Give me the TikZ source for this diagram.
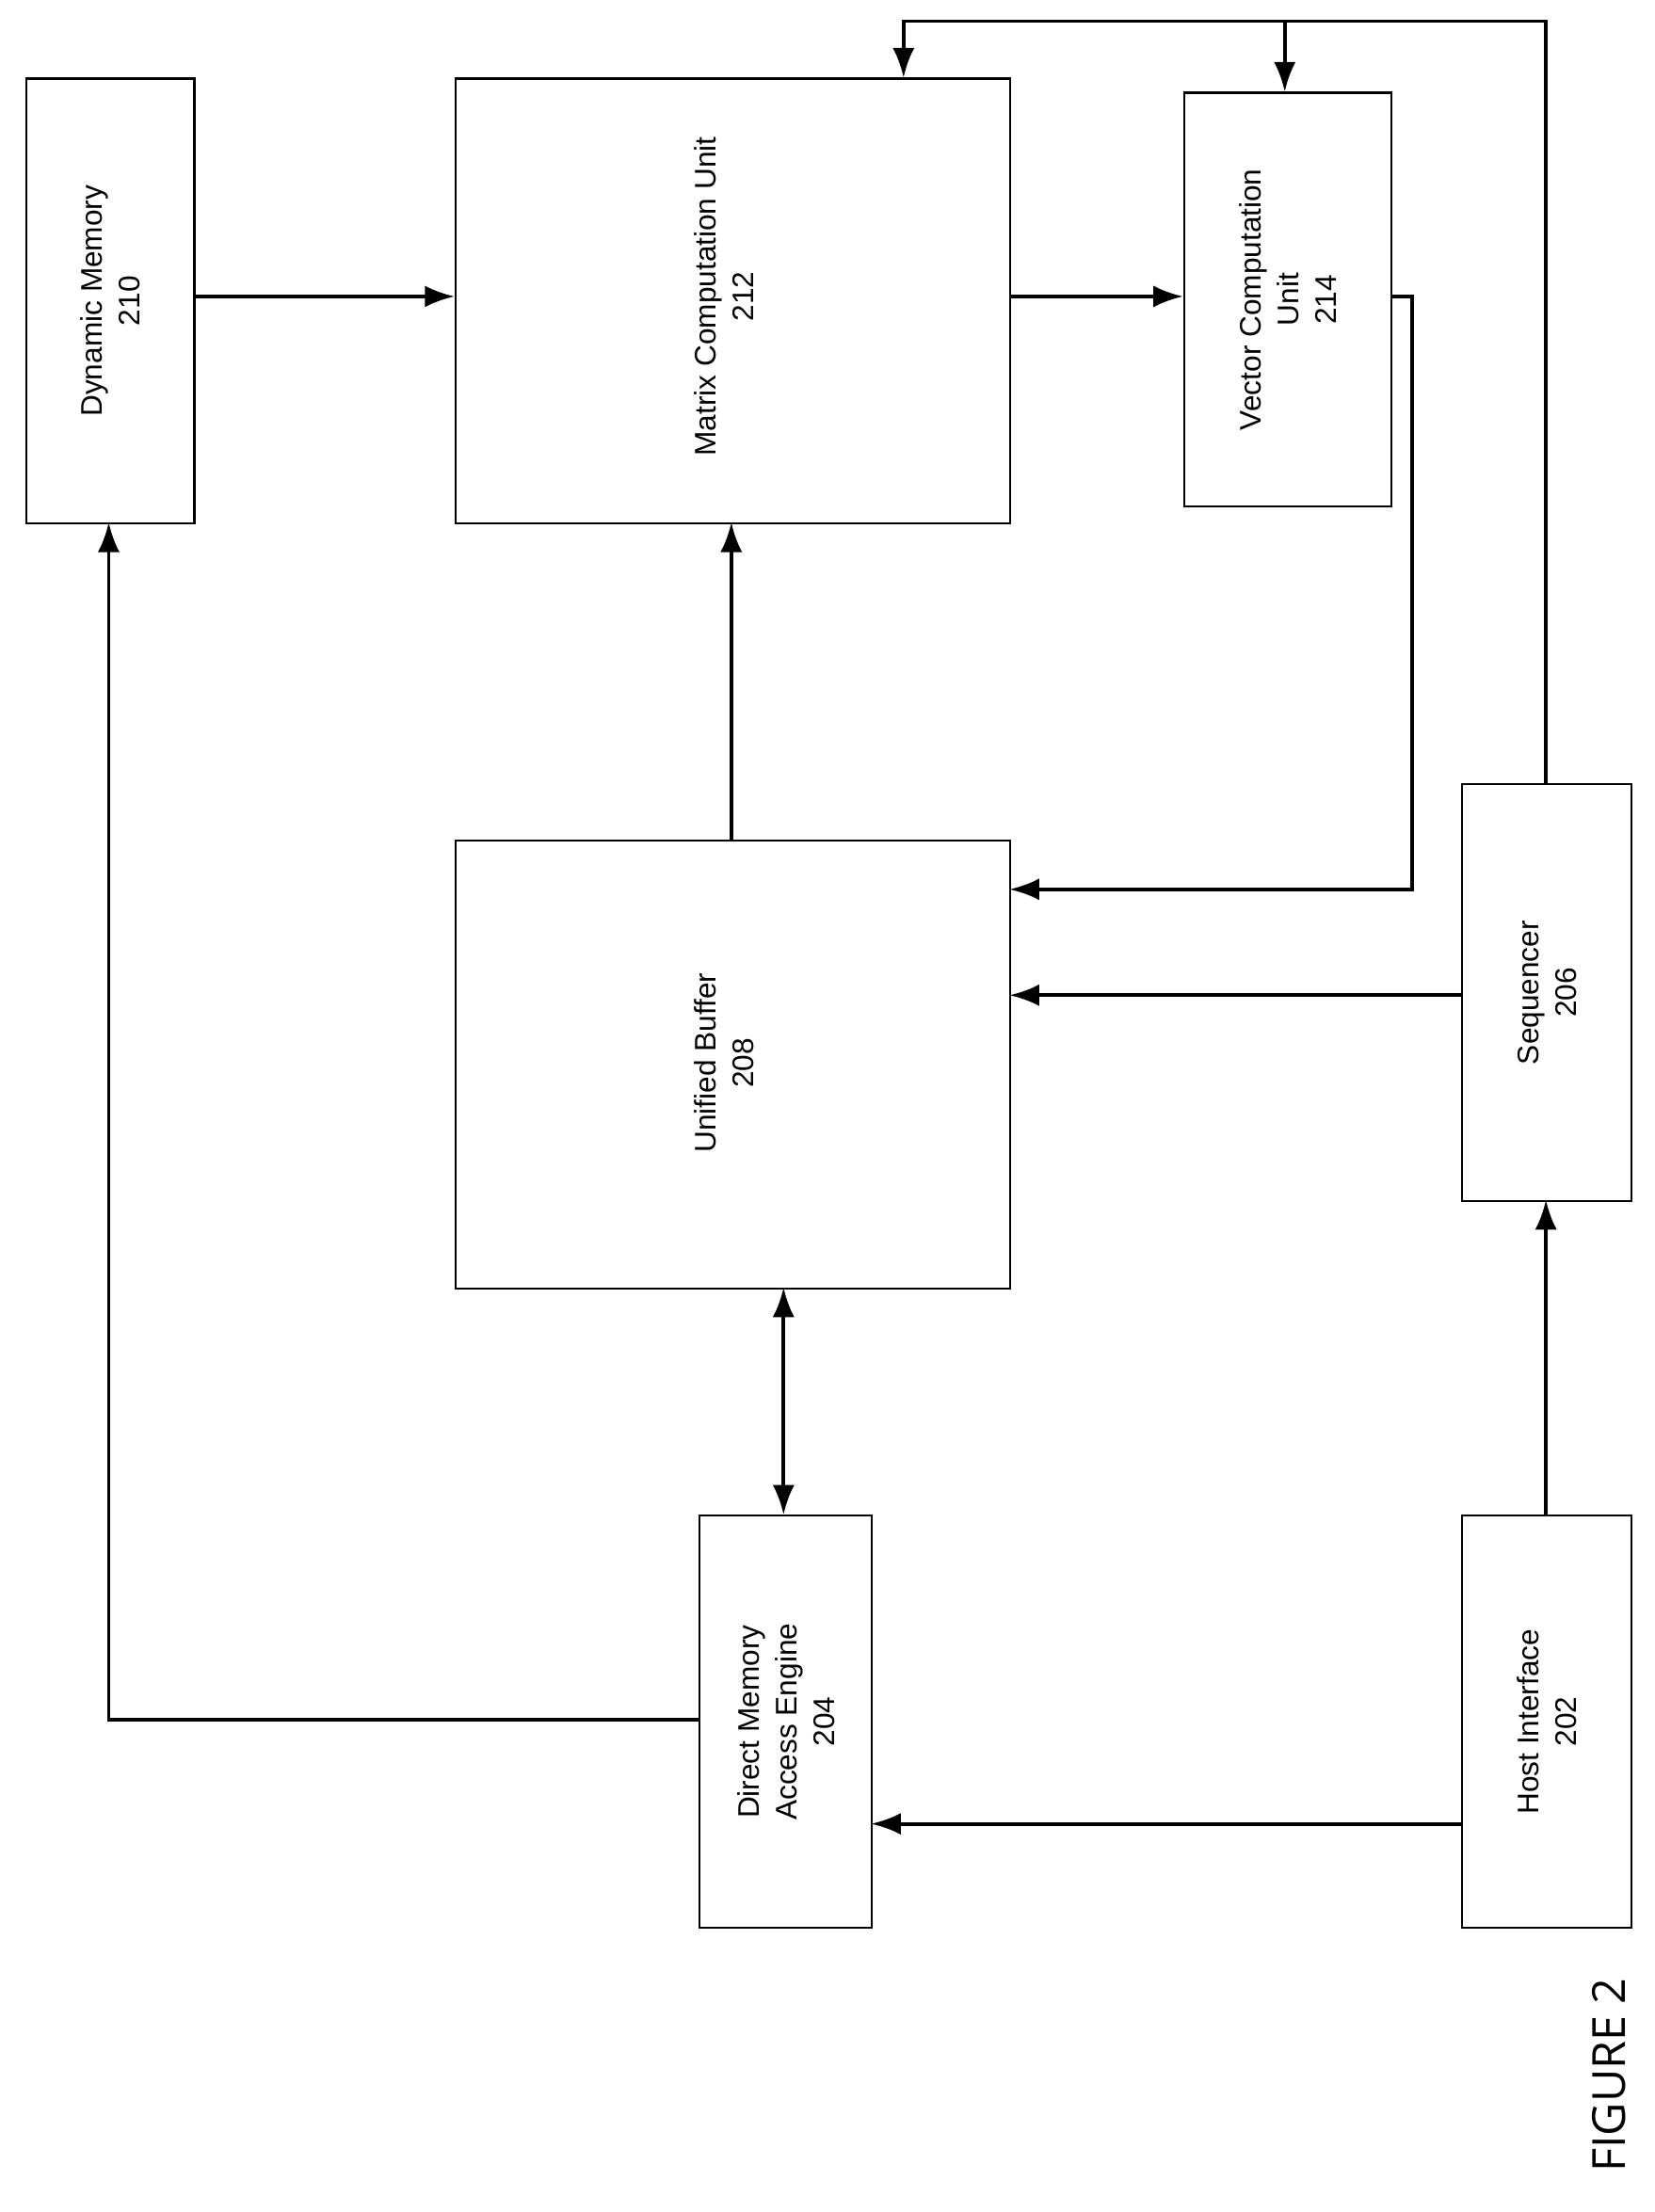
\documentclass[tikz,border=0pt]{standalone}
\usepackage{fontspec}
\setmainfont{Liberation Sans}
\newfontfamily\figfont{Open Sans}
\usetikzlibrary{arrows.meta}
\begin{document}
\begin{tikzpicture}[x=0.05cm,y=-0.05cm,
  box/.style={draw,line width=2pt,anchor=north west,inner sep=0pt},
  lbl/.style={rotate=90,align=center,font=\fontsize{30}{38}\selectfont},
  ar/.style={line width=3.6pt,-{Latex[length=30pt,width=22pt]}},
  ln/.style={line width=3.6pt}]
\useasboundingbox (0,0) rectangle (1172,1567);
\fill[white] (0,0) rectangle (1172,1567);
% boxes
\node[box,minimum width=119*0.05cm,minimum height=315*0.05cm] (dm) at (18,55) {};
\node[box,minimum width=393*0.05cm,minimum height=315*0.05cm] (mcu) at (322,55) {};
\node[box,minimum width=147*0.05cm,minimum height=293*0.05cm] (vcu) at (838,65) {};
\node[box,minimum width=393*0.05cm,minimum height=317*0.05cm] (ub) at (322,595) {};
\node[box,minimum width=122*0.05cm,minimum height=292*0.05cm] (dma) at (495,1073) {};
\node[box,minimum width=120*0.05cm,minimum height=292*0.05cm] (host) at (1035,1073) {};
\node[box,minimum width=120*0.05cm,minimum height=295*0.05cm] (seq) at (1035,555) {};
% labels
\node[lbl] (tdm) at (dm.center) {Dynamic Memory\\210};
\node[lbl] (tmcu) at (513,210) {Matrix Computation Unit\\212};
\node[lbl] (tvcu) at (vcu.center) {Vector Computation\\Unit\\214};
\node[lbl] (tub) at (513,753) {Unified Buffer\\208};
\node[lbl] (tdma) at (dma.center) {Direct Memory\\Access Engine\\204};
\node[lbl] (thost) at (host.center) {Host Interface\\202};
\node[lbl] (tseq) at (seq.center) {Sequencer\\206};
\node[rotate=90,font=\figfont\fontsize{46}{50}\selectfont] (fig) at (1140,1470) {FIGURE 2};
% coordinates
\coordinate (dmR) at (137,210); \coordinate (mcuL) at (322,210);
\coordinate (mcuR) at (715,210); \coordinate (vcuL) at (838,210);
\coordinate (ubT) at (518,595); \coordinate (mcuB) at (518,370);
\coordinate (vcuR) at (985,210); \coordinate (ubR1) at (715,630);
\coordinate (seqL) at (1035,705); \coordinate (ubR2) at (715,705);
\coordinate (seqT) at (1095,555); \coordinate (mcuT) at (640,55); \coordinate (vcuT) at (910,65);
\coordinate (hostT) at (1095,1073); \coordinate (seqB) at (1095,850);
\coordinate (hostL) at (1035,1292); \coordinate (dmaR) at (617,1292);
\coordinate (dmaT) at (555,1073); \coordinate (ubB) at (555,912);
\coordinate (dmaL) at (495,1218); \coordinate (dmB) at (77,370);
% connectors
\draw[ar] (dmR) -- (mcuL);
\draw[ar] (mcuR) -- (vcuL);
\draw[ar] (ubT) -- (mcuB);
\draw[ar] (vcuR) -- (1000,210) -- (1000,630) -- (ubR1);
\draw[ar] (seqL) -- (ubR2);
\draw[ar] (seqT) -- (1095,15) -- (640,15) -- (mcuT);
\draw[ar] (910,15) -- (vcuT);
\draw[ar] (hostT) -- (seqB);
\draw[ar] (hostL) -- (dmaR);
\draw[ar,{Latex[length=30pt,width=22pt]}-{Latex[length=30pt,width=22pt]}] (dmaT) -- (ubB);
\draw[ar] (dmaL) -- (77,1218) -- (dmB);
\end{tikzpicture}
\end{document}
